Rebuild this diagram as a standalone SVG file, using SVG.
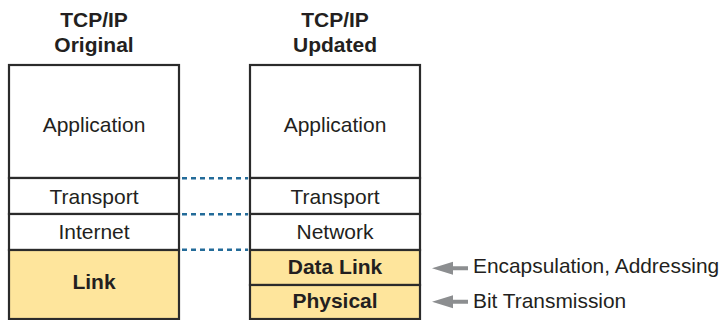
<svg xmlns="http://www.w3.org/2000/svg" width="725" height="320" viewBox="0 0 725 320">
<defs>
<style>
.box{fill:#ffffff;stroke:#2b2b2b;stroke-width:2.2}
.hl{fill:#fee59c;stroke:#2b2b2b;stroke-width:2.2}
.t{font-family:"Liberation Sans",Arial,sans-serif;font-size:21px;fill:#231f20;text-anchor:middle}
.b{font-weight:bold}
.lbl{font-family:"Liberation Sans",Arial,sans-serif;font-size:20.9px;fill:#231f20}
.dot{stroke:#236b99;stroke-width:2.4;stroke-dasharray:5 4;fill:none}
.arr{fill:#8c8e90}
</style>
</defs>
<g id="title-original">
<text class="t b" x="94" y="27">TCP/IP</text>
<text class="t b" x="94" y="52">Original</text>
</g>
<g id="title-updated">
<text class="t b" x="335" y="27">TCP/IP</text>
<text class="t b" x="335" y="52">Updated</text>
</g>
<g id="orig-application">
<rect class="box" x="9" y="65" width="170" height="113"/>
<text class="t" x="94" y="132">Application</text>
</g>
<g id="orig-transport">
<rect class="box" x="9" y="178" width="170" height="36"/>
<text class="t" x="94" y="203.5">Transport</text>
</g>
<g id="orig-internet">
<rect class="box" x="9" y="214" width="170" height="36"/>
<text class="t" x="94" y="238.5">Internet</text>
</g>
<g id="orig-link">
<rect class="hl" x="9" y="250" width="170" height="69"/>
<text class="t b" x="94" y="289">Link</text>
</g>
<g id="upd-application">
<rect class="box" x="250" y="65" width="170" height="113"/>
<text class="t" x="335" y="132">Application</text>
</g>
<g id="upd-transport">
<rect class="box" x="250" y="178" width="170" height="36"/>
<text class="t" x="335" y="203.5">Transport</text>
</g>
<g id="upd-network">
<rect class="box" x="250" y="214" width="170" height="36"/>
<text class="t" x="335" y="238.5">Network</text>
</g>
<g id="upd-datalink">
<rect class="hl" x="250" y="250" width="170" height="35"/>
<text class="t b" x="335" y="273.5">Data Link</text>
</g>
<g id="upd-physical">
<rect class="hl" x="250" y="285" width="170" height="34"/>
<text class="t b" x="335" y="308">Physical</text>
</g>
<g id="connectors">
<line class="dot" x1="182" y1="178.3" x2="248" y2="178.3"/>
<line class="dot" x1="182" y1="214.3" x2="248" y2="214.3"/>
<line class="dot" x1="182" y1="249.7" x2="248" y2="249.7"/>
<path class="arr" d="M432,268.3 L453,261.8 L453,266.3 L468,266.3 L468,270.3 L453,270.3 L453,274.8 Z"/>
<path class="arr" d="M432,301.7 L453,295.2 L453,299.7 L468,299.7 L468,303.7 L453,303.7 L453,308.2 Z"/>
</g>
<g id="label-encap">
<text class="lbl" x="473" y="273.3">Encapsulation, Addressing</text>
</g>
<g id="label-bit">
<text class="lbl" x="473" y="307.7">Bit Transmission</text>
</g>
</svg>
